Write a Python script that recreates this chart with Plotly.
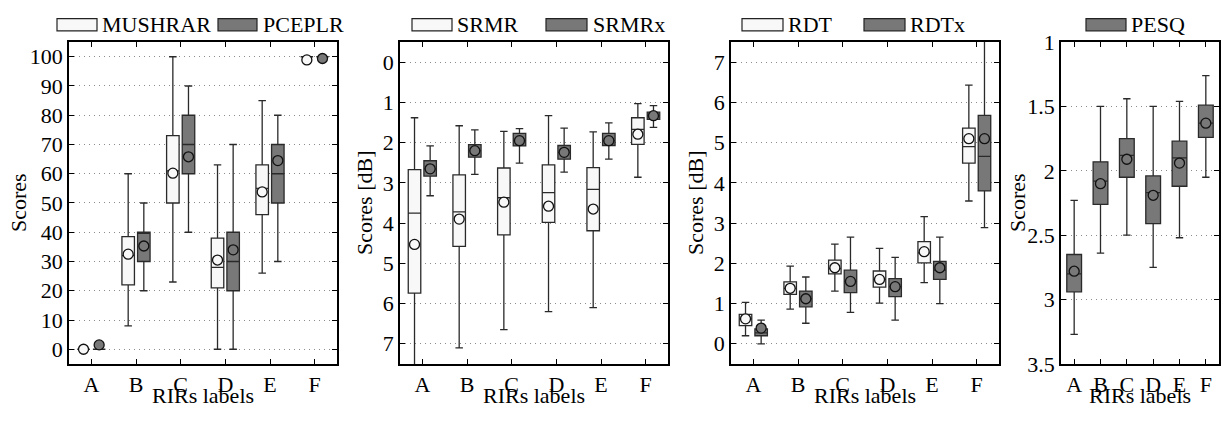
import plotly.graph_objects as go

W, H = 1223, 423

cats = ["A", "B", "C", "D", "E", "F"]

# ---- Panel 1: MUSHRAR (white) / PCEPLR (gray) ----
mush_lo = [0, 8, 23, 0, 26, 100]
mush_q1 = [0, 22, 50, 21, 46, 100]
mush_med = [0, 32, 61, 28, 55, 100]
mush_q3 = [0, 38.5, 73, 38, 63, 100]
mush_hi = [0, 60, 100, 63, 85, 100]
mush_mean = [0, 32.5, 60.2, 30.5, 53.8, 98.9]

pce_lo = [0, 20, 40, 0, 30, 100]
pce_q1 = [0, 30, 60, 20, 50, 100]
pce_med = [0, 40, 70, 30, 60, 100]
pce_q3 = [0, 40, 80, 40, 70, 100]
pce_hi = [0, 50, 90, 70, 80, 100]
pce_mean = [1.5, 35.3, 65.8, 34.0, 64.5, 99.4]

# ---- Panel 2: SRMR (white) / SRMRx (gray) ----
srmr_lo = [1.38, 1.58, 1.72, 1.33, 1.73, 1.03]
srmr_q1 = [2.67, 2.80, 2.63, 2.55, 2.62, 1.38]
srmr_med = [3.75, 3.72, 3.37, 3.24, 3.16, 1.67]
srmr_q3 = [5.74, 4.58, 4.29, 3.98, 4.19, 2.04]
srmr_hi = [7.9, 7.1, 6.65, 6.2, 6.1, 2.86]
srmr_mean = [4.53, 3.90, 3.48, 3.58, 3.65, 1.79]

srmrx_lo = [2.08, 1.68, 1.65, 1.64, 1.51, 1.08]
srmrx_q1 = [2.45, 2.05, 1.77, 2.07, 1.77, 1.24]
srmrx_med = [2.65, 2.20, 1.95, 2.24, 1.95, 1.33]
srmrx_q3 = [2.83, 2.36, 2.08, 2.41, 2.07, 1.42]
srmrx_hi = [3.32, 2.79, 2.51, 2.73, 2.41, 1.62]
srmrx_mean = [2.65, 2.20, 1.95, 2.24, 1.95, 1.33]

# ---- Panel 3: RDT (white) / RDTx (gray) ----
rdt_lo = [0.20, 0.86, 1.31, 1.01, 1.52, 3.55]
rdt_q1 = [0.45, 1.23, 1.74, 1.41, 2.01, 4.49]
rdt_med = [0.62, 1.38, 1.87, 1.60, 2.26, 4.90]
rdt_q3 = [0.73, 1.54, 2.08, 1.81, 2.54, 5.36]
rdt_hi = [1.03, 1.93, 2.48, 2.37, 3.16, 6.43]
rdt_mean = [0.62, 1.38, 1.89, 1.60, 2.29, 5.10]

rdtx_lo = [0.0, 0.51, 0.78, 0.59, 1.0, 2.89]
rdtx_q1 = [0.20, 0.92, 1.27, 1.17, 1.60, 3.80]
rdtx_med = [0.27, 1.12, 1.55, 1.42, 1.83, 4.66]
rdtx_q3 = [0.37, 1.31, 1.83, 1.62, 2.05, 5.68]
rdtx_hi = [0.59, 1.66, 2.65, 2.15, 2.65, 8.0]
rdtx_mean = [0.39, 1.12, 1.55, 1.42, 1.89, 5.10]

# ---- Panel 4: PESQ (gray) ----
pesq_lo = [2.23, 1.50, 1.44, 1.50, 1.46, 1.26]
pesq_q1 = [2.65, 1.93, 1.75, 2.04, 1.77, 1.49]
pesq_med = [2.80, 2.08, 1.88, 2.17, 1.90, 1.63]
pesq_q3 = [2.94, 2.26, 2.05, 2.41, 2.12, 1.74]
pesq_hi = [3.27, 2.64, 2.50, 2.75, 2.52, 2.05]
pesq_mean = [2.78, 2.10, 1.91, 2.19, 1.94, 1.63]

# axis ticks
p1_ticks = [0, 10, 20, 30, 40, 50, 60, 70, 80, 90, 100]
p2_ticks = [0, 1, 2, 3, 4, 5, 6, 7]
p3_ticks = [0, 1, 2, 3, 4, 5, 6, 7]
p4_ticks = [1, 1.5, 2, 2.5, 3, 3.5]
p4_ticktext = ["1", "1.5", "2", "2.5", "3", "3.5"]

legend_names = [["MUSHRAR", "PCEPLR"], ["SRMR", "SRMRx"], ["RDT", "RDTx"], ["PESQ"]]
ytitles = ["Scores", "Scores [dB]", "Scores [dB]", "Scores"]
xtitle = "RIRs labels"

WHITE = "#f8f8f8"
GRAY = "#787878"
EDGE = "#2a2a2a"
FONT = "Liberation Serif, Times New Roman, Times, serif"

# category positions on the numeric x axis
cat_pos = list(range(1, len(cats) + 1))
PAIR_SHIFT = 0.175
BOX_W_PAIR = 0.28
BOX_W_SINGLE = 0.56

fig = go.Figure()


def add_series(n, lo, q1, med, q3, hi, mean, fill, shift, bw, ww):
    xa = "x" if n == 1 else f"x{n}"
    ya = "y" if n == 1 else f"y{n}"
    xs = [p + shift for p in cat_pos]
    fig.add_trace(go.Box(
        x=xs, q1=q1, median=med, q3=q3, lowerfence=lo, upperfence=hi,
        width=bw, fillcolor=fill, line=dict(color=EDGE, width=1.3),
        whiskerwidth=ww, boxpoints=False, showlegend=False,
        xaxis=xa, yaxis=ya, hoverinfo="skip"))
    fig.add_trace(go.Scatter(
        x=xs, y=mean, mode="markers",
        marker=dict(symbol="circle", size=10, color=fill,
                    line=dict(color="#111111", width=1.3)),
        showlegend=False, xaxis=xa, yaxis=ya, hoverinfo="skip"))


add_series(1, mush_lo, mush_q1, mush_med, mush_q3, mush_hi, mush_mean, WHITE, -PAIR_SHIFT, BOX_W_PAIR, 0.6)
add_series(1, pce_lo, pce_q1, pce_med, pce_q3, pce_hi, pce_mean, GRAY, PAIR_SHIFT, BOX_W_PAIR, 0.6)
add_series(2, srmr_lo, srmr_q1, srmr_med, srmr_q3, srmr_hi, srmr_mean, WHITE, -PAIR_SHIFT, BOX_W_PAIR, 0.6)
add_series(2, srmrx_lo, srmrx_q1, srmrx_med, srmrx_q3, srmrx_hi, srmrx_mean, GRAY, PAIR_SHIFT, BOX_W_PAIR, 0.6)
add_series(3, rdt_lo, rdt_q1, rdt_med, rdt_q3, rdt_hi, rdt_mean, WHITE, -PAIR_SHIFT, BOX_W_PAIR, 0.6)
add_series(3, rdtx_lo, rdtx_q1, rdtx_med, rdtx_q3, rdtx_hi, rdtx_mean, GRAY, PAIR_SHIFT, BOX_W_PAIR, 0.6)
add_series(4, pesq_lo, pesq_q1, pesq_med, pesq_q3, pesq_hi, pesq_mean, GRAY, 0.0, BOX_W_SINGLE, 0.5)

# layout geometry (pixels)
panels_px = [(69, 337), (400, 668), (731, 999), (1061, 1219)]
top_px, bot_px = 32, 374
ydom = [1 - bot_px / H, 1 - top_px / H]
yranges = [[-5, 105], [7.5, -0.5], [-0.5, 7.5], [3.5, 1]]
ytickvals = [p1_ticks, p2_ticks, p3_ticks, p4_ticks]
yticktexts = [[str(v) for v in p1_ticks], [str(v) for v in p2_ticks],
              [str(v) for v in p3_ticks], p4_ticktext]

FS = 22
tickfont = dict(family=FONT, size=FS, color="black")
layout = dict(
    width=W, height=H, autosize=False, margin=dict(l=0, r=0, t=0, b=0, pad=0),
    paper_bgcolor="white", plot_bgcolor="white", showlegend=False,
    boxmode="overlay",
    font=dict(family=FONT, size=FS, color="black"),
)
for i, (l, r) in enumerate(panels_px):
    n = i + 1
    xk = "xaxis" if n == 1 else f"xaxis{n}"
    yk = "yaxis" if n == 1 else f"yaxis{n}"
    layout[xk] = dict(
        domain=[l / W, r / W], anchor="y" if n == 1 else f"y{n}",
        range=[0.5, len(cats) + 0.5], tickvals=cat_pos, ticktext=cats,
        showgrid=False, zeroline=False,
        showline=True, linecolor="black", linewidth=1.5, mirror="ticks",
        ticks="inside", ticklen=5, tickwidth=1, tickcolor="black",
        tickfont=tickfont)
    layout[yk] = dict(
        domain=ydom, anchor="x" if n == 1 else f"x{n}",
        range=yranges[i], tickvals=ytickvals[i], ticktext=yticktexts[i],
        showgrid=True, gridcolor="#8c8c8c", griddash="1px,4px", gridwidth=1,
        zeroline=False,
        showline=True, linecolor="black", linewidth=1.5, mirror="ticks",
        ticks="inside", ticklen=5, tickwidth=1, tickcolor="black",
        tickfont=tickfont)

fig.update_layout(**layout)

# axis titles as annotations
ytitle_x = [18, 364, 695, 1017]
for i, (l, r) in enumerate(panels_px):
    fig.add_annotation(text=ytitles[i], xref="paper", yref="paper",
                       x=ytitle_x[i] / W, y=1 - 203 / H, textangle=-90,
                       showarrow=False, xanchor="center", yanchor="middle",
                       font=dict(family=FONT, size=FS, color="black"))
    fig.add_annotation(text=xtitle, xref="paper", yref="paper",
                       x=(l + r) / 2 / W, y=1 - 408 / H, showarrow=False,
                       xanchor="center", yanchor="middle",
                       font=dict(family=FONT, size=FS, color="black"))

# custom legends above each panel
legend_boxes = [[(57, 97, 100), (218, 257, 261)],
                [(412, 452, 455), (546, 587, 591)],
                [(742, 783, 786), (864, 905, 908)],
                [(1086, 1126, 1129)]]
legend_fills = [[WHITE, GRAY], [WHITE, GRAY], [WHITE, GRAY], [GRAY]]
for names, boxes, fills in zip(legend_names, legend_boxes, legend_fills):
    for name, (x0, x1, tx), fc in zip(names, boxes, fills):
        fig.add_shape(type="rect", xref="paper", yref="paper",
                      x0=x0 / W, x1=x1 / W, y0=1 - 20 / H, y1=1 - 7 / H,
                      fillcolor=fc, line=dict(color="#222222", width=1.2))
        fig.add_annotation(text=name, xref="paper", yref="paper",
                           x=tx / W, y=1 - 13 / H, showarrow=False,
                           xanchor="left", yanchor="middle",
                           font=dict(family=FONT, size=FS, color="black"))

page_fix = (
    "var gd=document.getElementById('{plot_id}');"
    "var de=document.documentElement, b=document.body;"
    "de.style.margin='0';b.style.margin='0';b.style.padding='0';"
    "de.style.overflow='hidden';b.style.overflow='hidden';"
    "de.style.height='%dpx';b.style.height='%dpx';"
    "gd.style.position='fixed';gd.style.top='0px';gd.style.left='0px';"
) % (H, H)

fig.write_html(
    "out.html",
    config={"displayModeBar": False, "responsive": False},
    default_width=f"{W}px", default_height=f"{H}px",
    post_script=page_fix,
)
